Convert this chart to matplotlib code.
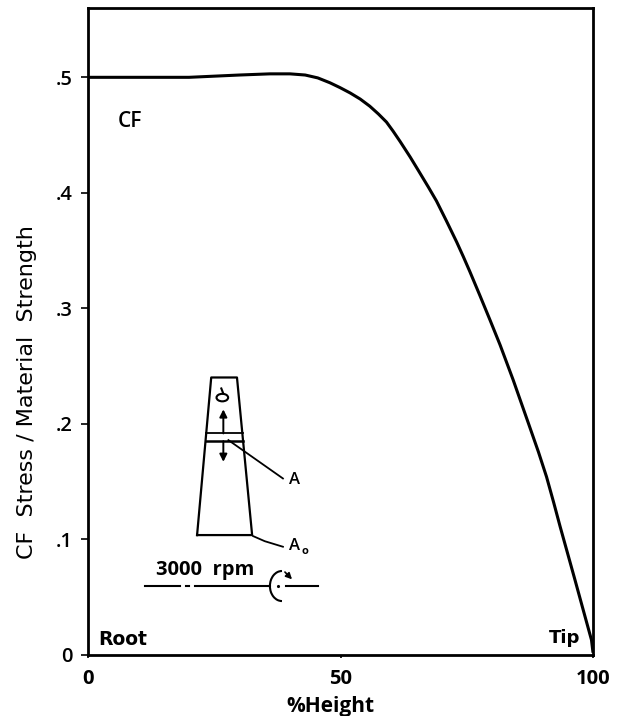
# -*- coding: utf-8 -*-
import matplotlib
matplotlib.use('Agg')
import matplotlib.pyplot as plt
from matplotlib.patches import Arc, Ellipse

plt.rcParams['font.family'] = ['Open Sans', 'DejaVu Sans']

# stress curve
height_pct = [0, 10, 20, 30, 36, 40, 43, 45.5, 47.9, 49.9, 51.9, 53.9, 55.8, 57.5, 59.1, 60.4, 61.8,
              63.8, 65.4, 67.4, 69.0, 71.0, 73.0, 74.3, 75.6, 77.6, 79.6, 81.6, 84.2, 87.2, 89.2,
              90.8, 92.2, 93.5, 95.0, 96.4, 98.0, 99.7, 100]
stress = [.5, .5, .5, .502, .503, .503, .502, .4995, .4953, .4911, .4865, .4812, .4750, .4683, .4613,
          .4535, .4445, .431, .4195, .4050, .3930, .3755, .3575, .3450, .3320, .3112, .2900, .2684,
          .2380, .2007, .1757, .1542, .1322, .111, .0875, .0655, .0400, .013, .002]

# blade sketch
blade_x = [21.6, 24.4, 29.5, 32.5, 21.6]
blade_y = [.1038, .2402, .2402, .1038, .1038]
band_x = [23.4, 30.6]
band_y = [.1918, .1851]
leader_a_x = [27.8, 38.6]
leader_a_y = [.186, .1528]
leader_a0_x = [32.7, 35.0, 38.6]
leader_a0_y = [.1029, .0985, .0937]
shaft_y = .0597
shaft_parts = [(11.3, 18.2), (19.4, 20.0), (21.2, 36.0), (39.3, 45.6)]

yticks = [0, .1, .2, .3, .4, .5]
ytick_labels = ['0', '.1', '.2', '.3', '.4', '.5']
xticks = [0, 50, 100]

fig = plt.figure(figsize=(6.19, 7.16), dpi=100)
ax = fig.add_axes([88 / 619, 61 / 716, 505 / 619, 647 / 716])
ax.plot(height_pct, stress, color='black', lw=2.2, solid_capstyle='butt', solid_joinstyle='round')
ax.set_xlim(0, 100)
ax.set_ylim(0, .56)

ax.set_yticks(yticks)
ax.set_yticklabels(ytick_labels, fontsize=14.5, fontweight='semibold')
ax.set_xticks(xticks)
ax.set_xticklabels(['0', '50', '100'], fontsize=14.5, fontweight='bold')
ax.tick_params(axis='y', length=5, width=1.2, pad=6)
ax.tick_params(axis='x', length=2, width=1.2, pad=8)
for s in ['left', 'bottom', 'right', 'top']:
    ax.spines[s].set_linewidth(2)
ax.set_xlabel('%Height', fontsize=15, fontweight='bold', va='center')
ax.xaxis.set_label_coords(.481, -.08)
ax.set_ylabel('CF  Stress / Material  Strength', fontsize=16, family='DejaVu Sans', va='center')
ax.yaxis.set_label_coords(-.121, .406)

ax.text(2, .013, 'Root', fontsize=13.5, fontweight='bold', family='DejaVu Sans', va='center')
ax.text(97.4, .0147, 'Tip', fontsize=13, fontweight='bold', family='DejaVu Sans', va='center', ha='right')
ax.text(8.3, .462, 'CF', fontsize=15, fontweight='semibold', va='center', ha='center')

# sketch
ax.plot(blade_x, blade_y, color='black', lw=1.6)
for y, w in zip(band_y, [1.3, 1.8]):
    ax.plot(band_x, [y, y], color='black', lw=w)
ax.plot(leader_a_x, leader_a_y, color='black', lw=1.3)
ax.plot(leader_a0_x, leader_a0_y, color='black', lw=1.3)
ax.text(40.8, .1514, 'A', fontsize=12, fontweight='semibold', ha='center', va='center')
ax.text(40.9, .0943, 'A', fontsize=12, fontweight='semibold', ha='center', va='center')
ax.text(42.9, .0895, 'o', fontsize=8, fontweight='bold', ha='center', va='center')

arrow = dict(arrowstyle='-|>', color='black', lw=1.4, shrinkA=0, shrinkB=0, mutation_scale=11)
ax.annotate('', xy=(26.8, .2126), xytext=(26.8, .1918), arrowprops=arrow)
ax.annotate('', xy=(26.8, .1672), xytext=(26.8, .1851), arrowprops=arrow)
ax.add_patch(Ellipse((26.6, .2228), 2.3, .0065, fill=False, ec='black', lw=1.5))
ax.plot([26.4, 26.8], [.2307, .2262], color='black', lw=1.5)

for a, b in shaft_parts:
    ax.plot([a, b], [shaft_y, shaft_y], color='black', lw=1.5)
ax.text(23.2, .0735, '3000  rpm', fontsize=14.5, fontweight='bold', ha='center', va='center')
ax.add_patch(Arc((38.4, shaft_y), 4.75, .026, theta1=45, theta2=315, ec='black', lw=1.5))
ax.annotate('', xy=(40.4, .0655), xytext=(39.0, .0718),
            arrowprops=dict(arrowstyle='-|>', color='black', lw=1.2, shrinkA=0, shrinkB=0, mutation_scale=9))
ax.plot([37.7], [shaft_y], marker='.', ms=2.5, color='black')

fig.savefig('out.png', dpi=100)
